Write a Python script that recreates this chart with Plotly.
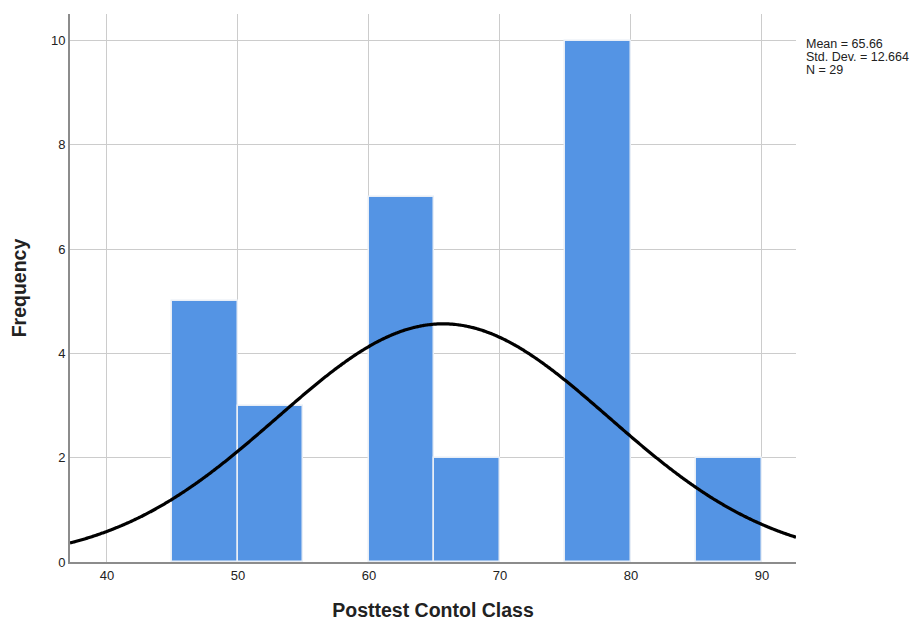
import numpy as np
import plotly.graph_objects as go

# Histogram bins (width 5) and frequencies
bin_starts = [45, 50, 60, 65, 75, 85]
counts = [5, 3, 7, 2, 10, 2]
bin_width = 5

# Summary statistics shown beside the chart
mean = 65.66
std_dev = 12.664
n_total = 29

x_ticks = [40, 50, 60, 70, 80, 90]
y_ticks = [0, 2, 4, 6, 8, 10]
x_range = [37.18, 92.6]
y_range = [0, 10.51]

bar_centers = [s + bin_width / 2 for s in bin_starts]

# Normal curve scaled to the histogram counts
xs = np.linspace(x_range[0], x_range[1], 400)
ys = n_total * bin_width * np.exp(-0.5 * ((xs - mean) / std_dev) ** 2) / (std_dev * np.sqrt(2 * np.pi))

fig = go.Figure()
fig.add_trace(go.Bar(
    x=bar_centers, y=counts, width=bin_width,
    marker=dict(color="#5494e4", line=dict(color="#e8eef6", width=1.5)),
    hoverinfo="x+y",
))
fig.add_trace(go.Scatter(
    x=xs, y=ys, mode="lines",
    line=dict(color="#000000", width=3.2, shape="spline"),
    hoverinfo="skip",
))

font_family = "Liberation Sans, Arial, sans-serif"

stats_lines = [
    f"Mean = {mean:.2f}",
    f"Std. Dev. = {std_dev:.3f}",
    f"N = {n_total}",
]
annotations = []
for i, line in enumerate(stats_lines):
    annotations.append(dict(
        xref="paper", yref="paper", x=1.0, y=0.945,
        xanchor="left", yanchor="middle", xshift=9, yshift=-13 * i,
        align="left", showarrow=False, text=line, borderpad=0,
        font=dict(size=12.5, color="#222222", family=font_family),
    ))

fig.update_layout(
    width=920, height=621,
    margin=dict(l=70, r=124, t=14, b=59),
    paper_bgcolor="white", plot_bgcolor="white",
    showlegend=False,
    bargap=0,
    font=dict(family=font_family, size=13, color="#222222"),
    xaxis=dict(
        range=x_range, tickvals=x_ticks, ticks="", showgrid=True,
        gridcolor="#cccccc", gridwidth=1.3, zeroline=False, automargin=False,
        showline=True, linecolor="#8c8c8c", linewidth=2,
        tickfont=dict(size=13, color="#222222"),
        title=dict(text="<b>Posttest Contol Class</b>", font=dict(size=19.5, color="#222222"), standoff=24),
    ),
    yaxis=dict(
        range=y_range, tickvals=y_ticks, ticks="", showgrid=True,
        gridcolor="#cccccc", gridwidth=1.3, zeroline=False, automargin=False,
        showline=True, linecolor="#8c8c8c", linewidth=2,
        tickfont=dict(size=13, color="#222222"),
        title=dict(text="<b>Frequency</b>", font=dict(size=19.5, color="#222222"), standoff=19),
    ),
    annotations=annotations,
)

fig.write_html("out.html")
